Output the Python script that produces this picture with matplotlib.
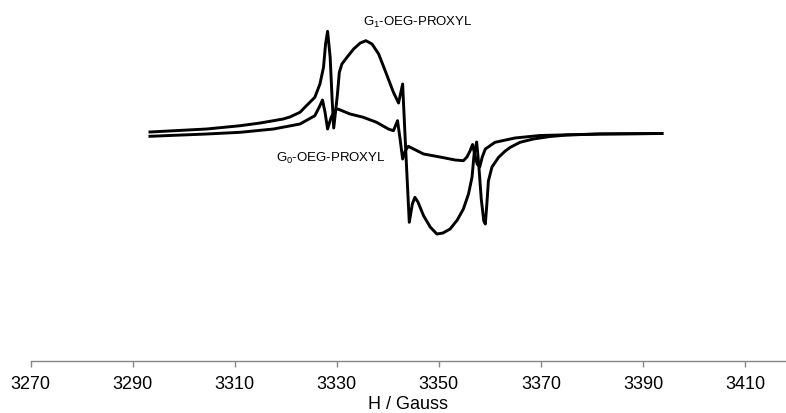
"""
ЭПР-спектры G0- и G1-OEG-PROXYL (вид как в Excel).
"""

import matplotlib

matplotlib.use('Agg')
import matplotlib.pyplot as plt

# Поле H (Гаусс) и интенсивность (усл. ед.) для G1-OEG-PROXYL
g1_field = [3293.4, 3304.5, 3311.1, 3315.0, 3317.6, 3319.5, 3320.8, 3322.8,
            3323.8, 3325.7, 3326.7, 3327.4, 3327.8, 3328.2, 3328.7, 3329.1,
            3329.4, 3330.1, 3330.5, 3331.0, 3332.0, 3333.3, 3334.6, 3335.7,
            3336.9, 3338.2, 3339.1, 3340.1, 3341.1, 3342.1, 3342.9, 3343.4,
            3344.2, 3344.8, 3345.3, 3345.9, 3347.0, 3348.3, 3349.6, 3350.8,
            3352.2, 3353.6, 3354.8, 3355.8, 3356.5, 3356.9, 3357.4, 3357.8,
            3358.3, 3358.8, 3359.1, 3359.4, 3359.7, 3360.4, 3361.7, 3363.0,
            3364.0, 3365.9, 3368.5, 3371.8, 3375.1, 3381.6, 3393.7]
g1_signal = [2, 5, 8.3, 11, 13.3, 15, 17, 21.7,
             27, 36.7, 50, 66.7, 90, 102.7, 77, 33.3,
             6, 38.3, 61.7, 70, 76.7, 85, 91, 93.3,
             90, 80, 68.3, 55, 41.7, 31, 50, -5,
             -88.3, -70, -63.3, -68, -81.7, -93, -100, -99,
             -95, -86, -75, -60, -43, -20, -8, -30,
             -65, -87, -90, -70, -47, -33, -23.3, -17,
             -13.3, -8.3, -5, -2.5, -1, 0, 0.5]

# То же для G0-OEG-PROXYL
g0_field = [3293.4, 3304.5, 3311.1, 3317.6, 3322.8, 3325.7, 3326.7, 3327.2,
            3327.7, 3328.2, 3328.9, 3329.7, 3330.2, 3332.6, 3335.2, 3337.8,
            3340.1, 3341.1, 3341.9, 3342.4, 3342.9, 3343.4, 3344.0, 3347.0,
            3350.2, 3353.2, 3354.8, 3355.5, 3356.1, 3356.6, 3357.0, 3357.5,
            3358.0, 3358.5, 3359.1, 3361.0, 3364.9, 3369.8, 3381.6, 3393.7]
g0_signal = [-2.3, 0, 1.7, 5, 10, 18.3, 28.3, 34,
             21.7, 5, 16.7, 24, 25, 20, 16.7, 11.7,
             5, 3.3, 13.3, -5, -25, -17, -12.3, -20,
             -23, -26, -26.7, -23, -17, -10.5, -20, -30,
             -33, -23, -15, -8.3, -4, -1.5, 0, 0.5]

x_ticks = [3270, 3290, 3310, 3330, 3350, 3370, 3390, 3410]

plt.rcParams['font.family'] = ['Liberation Sans', 'DejaVu Sans']
plt.rcParams['mathtext.default'] = 'regular'

fig = plt.figure(figsize=(7.86, 4.14), dpi=100)
ax = fig.add_axes([30.5 / 786, 52 / 414, 1 - 30.5 / 786, 1 - 52 / 414])

ax.plot(g1_field, g1_signal, color='black', lw=2.1)
ax.plot(g0_field, g0_signal, color='black', lw=2.1)

ax.text(3345.9, 113, 'G$_1$-OEG-PROXYL', fontsize=9.5, ha='center', va='center')
ax.text(3328.8, -23, 'G$_0$-OEG-PROXYL', fontsize=9.5, ha='center', va='center')

# Оформление осей: только нижняя ось, серая
ax.set_xlim(3270, 3418)
ax.set_ylim(-227, 135)
for side in ['top', 'right', 'left']:
    ax.spines[side].set_visible(False)
ax.spines['bottom'].set_color('#868686')
ax.spines['bottom'].set_linewidth(1)
ax.set_yticks([])
ax.set_xticks(x_ticks)
ax.tick_params(axis='x', direction='out', length=4, width=1, color='#868686',
               labelsize=13, pad=6)
ax.set_xlabel('H / Gauss', fontsize=13, labelpad=2)

fig.savefig('out.png', dpi=100)
